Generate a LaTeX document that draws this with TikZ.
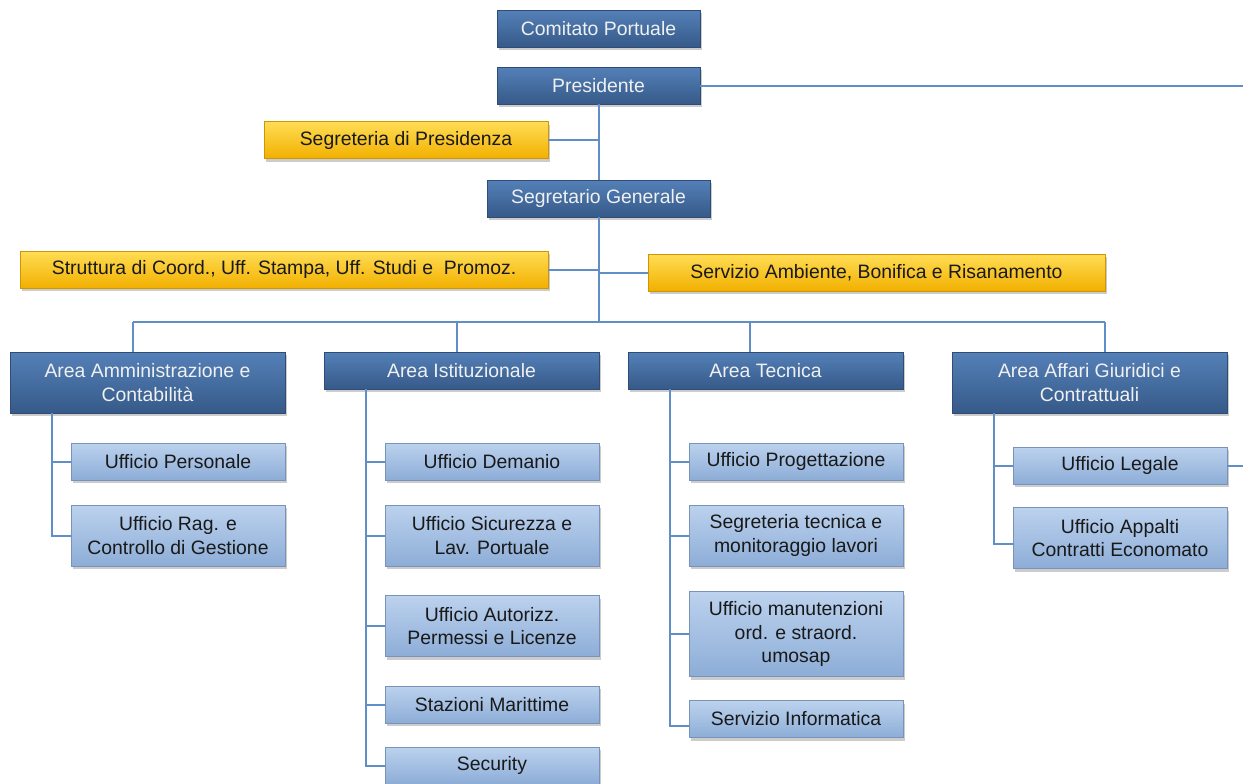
\documentclass[tikz,border=0pt]{standalone}
\usepackage{fontspec}
\setmainfont{Liberation Sans}
\usetikzlibrary{shadows}

\definecolor{areatop}{RGB}{84,128,184}
\definecolor{areabot}{RGB}{54,90,137}
\definecolor{ufftop}{RGB}{188,210,238}
\definecolor{uffbot}{RGB}{141,173,215}
\definecolor{stafftop}{RGB}{255,221,85}
\definecolor{staffbot}{RGB}{242,176,0}
\definecolor{linkblue}{RGB}{96,142,200}

\begin{document}
\begin{tikzpicture}[
    x=0.5pt, y=-0.5pt,
    every node/.style={font=\fontsize{9.7}{11.6}\selectfont, align=center, inner sep=1pt},
    boxshadow/.style={drop shadow={shadow xshift=0.8pt, shadow yshift=-1.6pt, opacity=0.4}},
    areabox/.style={rectangle, boxshadow, top color=areatop, bottom color=areabot,
        draw=areabot!85!black, line width=0.4pt, text=white!94!black,
        minimum width=137.5pt, minimum height=18.5pt},
    uffbox/.style={rectangle, boxshadow, top color=ufftop, bottom color=uffbot,
        draw=uffbot!85!black, line width=0.4pt, text=black!90,
        minimum width=107pt, minimum height=18.5pt},
    staffbox/.style={rectangle, boxshadow, top color=stafftop, bottom color=staffbot,
        draw=staffbot!85!black, line width=0.4pt, text=black!90,
        minimum height=18.5pt},
    twoline/.style={minimum height=30.5pt},
    link/.style={draw=linkblue, line width=1pt}
]
\useasboundingbox (0,0) rectangle (1243,783);

% Vertice
\node[areabox, minimum width=101.5pt] (comitato) at (598.5,28.5) {Comitato Portuale};
\node[areabox, minimum width=101.5pt] (pres) at (598.5,85.5) {Presidente};
\node[staffbox, minimum width=142pt] (segpres) at (406,140) {Segreteria di Presidenza};
\node[areabox, minimum width=111.5pt] (segr) at (598.5,198.5) {Segretario Generale};

% Staff
\node[staffbox, minimum width=264pt] (strutt) at (284,269.5)
    {Struttura di Coord., Uff. Stampa, Uff. Studi e\ \ Promoz.};
\node[staffbox, minimum width=228.5pt] (ambiente) at (876.5,272.5)
    {Servizio Ambiente, Bonifica e Risanamento};

% Aree
\node[areabox, twoline] (amm) at (147.5,382.5) {Area Amministrazione e\\Contabilità};
\node[areabox] (ist) at (461.5,370.5) {Area Istituzionale};
\node[areabox] (tec) at (765.5,370.5) {Area Tecnica};
\node[areabox, twoline] (aff) at (1089.5,382.5) {Area Affari Giuridici e\\Contrattuali};

% Uffici
\node[uffbox] (pers) at (178,461.5) {Ufficio Personale};
\node[uffbox, twoline] (rag) at (178,535.5) {Ufficio Rag. e\\Controllo di Gestione};

\node[uffbox] (demanio) at (492,461.5) {Ufficio Demanio};
\node[uffbox, twoline] (sicur) at (492,535.5) {Ufficio Sicurezza e\\Lav. Portuale};
\node[uffbox, twoline] (autorizz) at (492,626) {Ufficio Autorizz.\\Permessi e Licenze};
\node[uffbox] (stazioni) at (492,704.5) {Stazioni Marittime};
\node[uffbox] (security) at (492,765.5) {Security};

\node[uffbox] (progett) at (796,461.5) {Ufficio Progettazione};
\node[uffbox, twoline] (segtec) at (796,535.5) {Segreteria tecnica e\\monitoraggio lavori};
\node[uffbox, minimum height=42.5pt] (manut) at (796,634) {Ufficio manutenzioni\\ord. e straord.\\umosap};
\node[uffbox] (inform) at (796,719) {Servizio Informatica};

\node[uffbox] (legale) at (1120,465.5) {Ufficio Legale};
\node[uffbox, twoline] (appalti) at (1120,538) {Ufficio Appalti\\Contratti Economato};

% Punti liberi e bus
\coordinate (presR) at (1243,85.5);
\coordinate (legR) at (1243,465.5);
\coordinate (bus) at (598.5,322);
\coordinate (d1) at (133,322);
\coordinate (d2) at (457,322);
\coordinate (d3) at (750,322);
\coordinate (d4) at (1105,322);

% Collegamenti
\draw[link] (pres.east) -- (presR);
\draw[link] (pres.south) -- (segr.north);
\draw[link] (segpres.east) -- (segpres.east -| pres.south);
\draw[link] (segr.south) -- (bus);
\draw[link] (strutt.east) -- (strutt.east -| segr.south);
\draw[link] (ambiente.west) -- (ambiente.west -| segr.south);
\draw[link] (d1) -- (d4);
\foreach \d/\a in {d1/amm, d2/ist, d3/tec, d4/aff}
    \draw[link] (\d) -- (\d |- \a.north);
\foreach \a/\u in {amm/pers, amm/rag, ist/demanio, ist/sicur, ist/autorizz,
    ist/stazioni, ist/security, tec/progett, tec/segtec, tec/manut,
    aff/legale}
    \draw[link] ([xshift=21pt]\a.south west) |- (\u.west);
% questi due escono un po' sotto il centro
\draw[link] ([xshift=21pt]tec.south west) |- ([yshift=-3.5pt]inform.west);
\draw[link] ([xshift=21pt]aff.south west) |- ([yshift=-3pt]appalti.west);
\draw[link] (legale.east) -- (legR);
\end{tikzpicture}
\end{document}
